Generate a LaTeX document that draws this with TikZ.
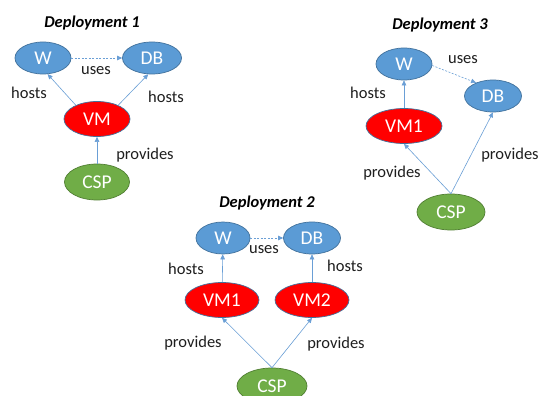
\documentclass[tikz,border=0pt]{standalone}
\usepackage{fontspec}
\setmainfont{Carlito}
\usetikzlibrary{shapes.geometric,arrows.meta}
\definecolor{entblue}{HTML}{5B9BD5}
\definecolor{bordblue}{HTML}{41719C}
\definecolor{vmred}{HTML}{FF0000}
\definecolor{cspgreen}{HTML}{70AD47}
\definecolor{bordgreen}{HTML}{507E32}
\definecolor{arrblue}{HTML}{6A9FD6}
\definecolor{labgray}{HTML}{1E1E1E}
\tikzset{
  ent/.style={ellipse, draw=bordblue, line width=0.7pt, fill=entblue, inner sep=0pt,
    minimum width=56pt, minimum height=32pt, text=white, font=\fontsize{19.5}{19.5}\selectfont},
  vmn/.style={ent, fill=vmred, minimum width=74pt, minimum height=35pt},
  cspn/.style={ent, fill=cspgreen, draw=bordgreen, minimum width=67pt, minimum height=36pt},
  lab/.style={text=labgray, font=\fontsize{16.5}{16.5}\selectfont, inner sep=0pt},
  ttl/.style={text=black, font=\fontsize{16.5}{16.5}\selectfont\bfseries\itshape, inner sep=0pt},
  rel/.style={draw=arrblue, line width=0.6pt, -{Triangle[length=5pt,width=4.5pt]}},
  uses/.style={rel, dashed, dash pattern=on 2pt off 1.5pt}
}
\begin{document}
\begin{tikzpicture}[x=1pt,y=-1pt]
\useasboundingbox (0,0) rectangle (538,396);
\fill[white] (0,0) rectangle (538,396);
% Deployment 1
\node[ttl] (t1) at (92,23) {Deployment 1};
\node[ent] (w1) at (43,58) {W};
\node[ent, minimum width=59pt] (db1) at (152,58) {DB};
\node[vmn, minimum width=66pt] (vm1) at (97,119) {VM};
\node[cspn, minimum width=65pt] (csp1) at (97,182) {CSP};
\draw[uses] (w1.east) -- (db1.west);
\draw[rel] (vm1.147) -- (w1.-74);
\draw[rel] (vm1.33) -- (db1.-103);
\draw[rel] (csp1) -- (vm1);
\node[lab] (u1) at (96,71) {uses};
\node[lab] (h1a) at (29,93) {hosts};
\node[lab] (h1b) at (166,97) {hosts};
\node[lab] (p1) at (145,155) {provides};
% Deployment 3
\node[ttl] (t3) at (440,25) {Deployment 3};
\node[ent] (w3) at (404,64) {W};
\node[ent, minimum width=57pt] (db3) at (493,96) {DB};
\node[vmn, minimum width=76pt] (vm13) at (404,126) {VM1};
\node[cspn, minimum width=68pt] (csp3) at (451,212) {CSP};
\draw[uses] (w3.-3) -- (db3.142);
\draw[rel] (vm13) -- (w3);
\draw[rel] (csp3.north) -- (vm13.south);
\draw[rel] (csp3.north) -- (db3.south);
\node[lab] (u3) at (463,60) {uses};
\node[lab] (h3) at (368,93) {hosts};
\node[lab] (p3a) at (392,173) {provides};
\node[lab] (p3b) at (510,155) {provides};
% Deployment 2
\node[ttl] (t2) at (267,203) {Deployment 2};
\node[ent, minimum width=54pt] (w2) at (223,238) {W};
\node[ent, minimum width=57pt] (db2) at (312,238) {DB};
\node[vmn] (vm21) at (222,300) {VM1};
\node[vmn] (vm22) at (312,300) {VM2};
\node[cspn, minimum width=70pt] (csp2) at (272,386) {CSP};
\draw[uses] (w2.east) -- (db2.west);
\draw[rel] (vm21) -- (w2);
\draw[rel] (vm22) -- (db2);
\draw[rel] (csp2.north) -- (vm21.south);
\draw[rel] (csp2.north) -- (vm22.south);
\node[lab] (u2) at (264,250) {uses};
\node[lab] (h2a) at (186,269) {hosts};
\node[lab] (h2b) at (345,266) {hosts};
\node[lab] (p2a) at (193,343) {provides};
\node[lab] (p2b) at (336,344) {provides};
\end{tikzpicture}
\end{document}
